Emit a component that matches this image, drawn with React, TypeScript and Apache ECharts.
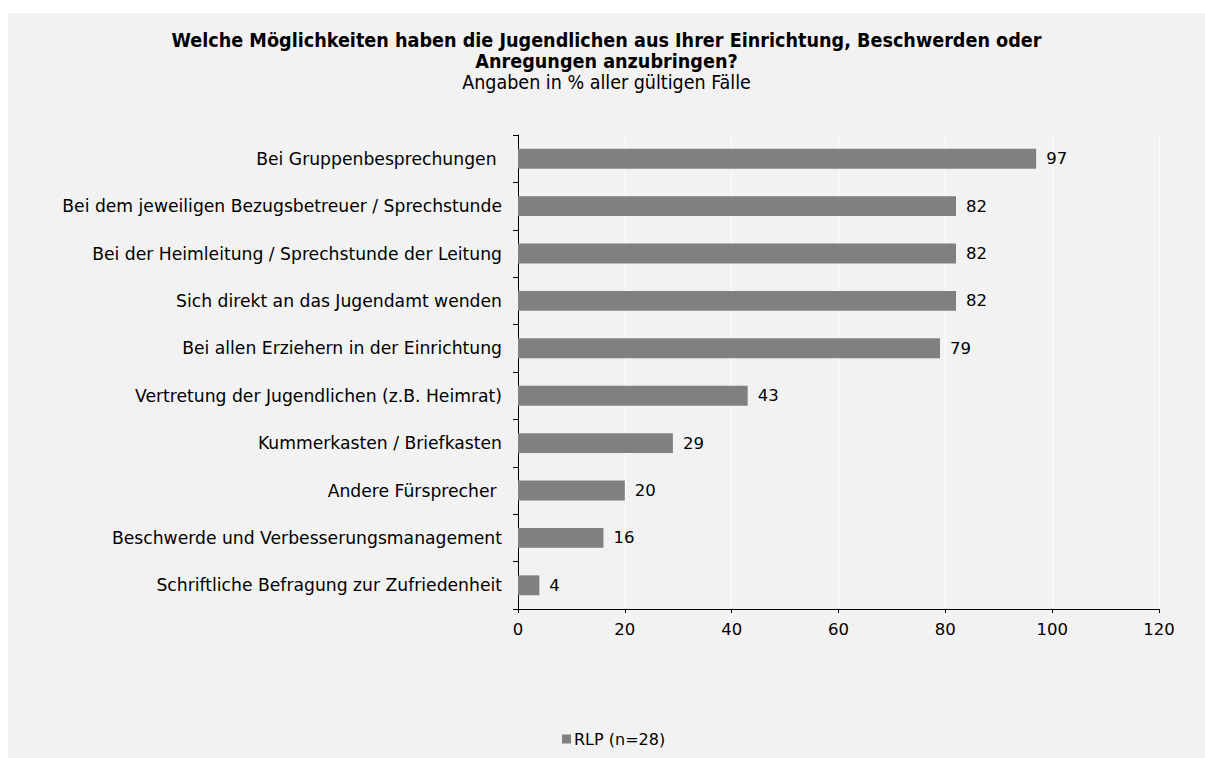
import React, { useEffect, useRef } from "react";
import * as echarts from "echarts";

const categories = [
  "Bei Gruppenbesprechungen ",
  "Bei dem jeweiligen Bezugsbetreuer / Sprechstunde",
  "Bei der Heimleitung / Sprechstunde der Leitung",
  "Sich direkt an das Jugendamt wenden",
  "Bei allen Erziehern in der Einrichtung",
  "Vertretung der Jugendlichen (z.B. Heimrat)",
  "Kummerkasten / Briefkasten",
  "Andere Fürsprecher ",
  "Beschwerde und Verbesserungsmanagement",
  "Schriftliche Befragung zur Zufriedenheit",
];
const values = [97, 82, 82, 82, 79, 43, 29, 20, 16, 4];
const seriesName = "RLP (n=28)";
const titleLines = [
  "Welche Möglichkeiten haben die Jugendlichen aus Ihrer Einrichtung, Beschwerden oder",
  "Anregungen anzubringen?",
];
const subText = "Angaben in % aller gültigen Fälle";

export default function App() {
  const ref = useRef<HTMLDivElement>(null);
  useEffect(() => {
    if (!ref.current) return;
    const chart = echarts.init(ref.current, undefined, { renderer: "svg" });
    const font = "'DejaVu Sans', sans-serif";
    const condensed = "'DejaVu Sans Condensed', 'DejaVu Sans', sans-serif";
    const titleStyle = {
      fontFamily: condensed,
      fontWeight: "bold",
      fontSize: 19.6,
      lineHeight: 20,
      color: "#000",
    };
    chart.setOption({
      animation: false,
      backgroundColor: "#f2f2f2",
      title: [
        { text: titleLines[0], left: "center", top: 17, padding: 0, textStyle: titleStyle },
        { text: titleLines[1], left: "center", top: 38, padding: 0, textStyle: titleStyle },
        {
          text: subText,
          left: "center",
          top: 59,
          padding: 0,
          textStyle: {
            fontFamily: condensed,
            fontWeight: "normal",
            fontSize: 19.5,
            lineHeight: 20,
            color: "#000",
          },
        },
      ],
      legend: {
        bottom: 6,
        left: 549,
        itemWidth: 9,
        itemHeight: 9,
        itemGap: 4,
        icon: "rect",
        textStyle: { fontFamily: font, fontSize: 16, color: "#000", padding: [0, 0, 0, -2] },
        data: [seriesName],
      },
      grid: { left: 510, right: 46, top: 122, bottom: 149, containLabel: false },
      xAxis: {
        type: "value",
        min: 0,
        max: 120,
        interval: 20,
        axisLine: { show: true, lineStyle: { color: "#000", width: 1 } },
        axisTick: { show: true, length: 4, lineStyle: { color: "#000" } },
        axisLabel: { fontFamily: font, fontSize: 16.5, color: "#000", margin: 12 },
        splitLine: { show: true, lineStyle: { color: "#ffffff", width: 1 } },
      },
      yAxis: {
        type: "category",
        inverse: true,
        data: categories,
        axisLine: { show: true, lineStyle: { color: "#000", width: 1 } },
        axisTick: { show: true, length: 5, lineStyle: { color: "#000" } },
        axisLabel: { fontFamily: font, fontSize: 17.2, color: "#000", margin: 16 },
        splitLine: { show: false },
      },
      series: [
        {
          name: seriesName,
          type: "bar",
          data: values,
          barCategoryGap: "58%",
          itemStyle: { color: "#808080" },
          label: {
            show: true,
            position: "right",
            distance: 10,
            fontFamily: font,
            fontSize: 16.5,
            color: "#000",
          },
        },
      ],
    });
    return () => chart.dispose();
  }, []);
  return (
    <div
      ref={ref}
      style={{ position: "fixed", left: 8, top: 13, width: 1197, height: 745 }}
    />
  );
}
